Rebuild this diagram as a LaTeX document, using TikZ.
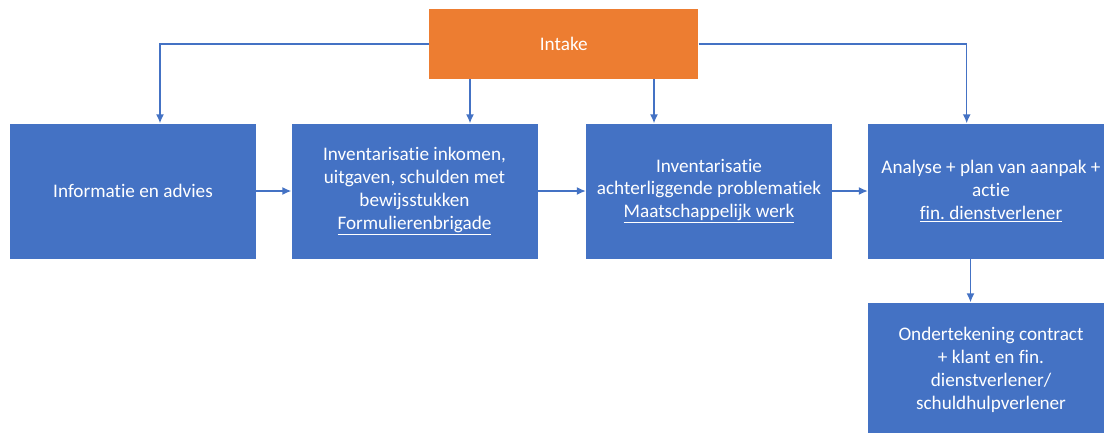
\documentclass[tikz,border=0pt]{standalone}
\usepackage{fontspec}
\setmainfont[Ligatures={NoCommon}]{Carlito}
\frenchspacing
\usetikzlibrary{arrows.meta}
\definecolor{boxblue}{HTML}{4472C4}
\definecolor{boxorange}{HTML}{ED7D31}
\tikzset{
  stepbox/.style={fill=boxblue, draw=none, text=white, align=center,
    minimum width=246pt, minimum height=135pt, inner sep=0pt,
    font=\fontsize{19.2pt}{22.8pt}\selectfont},
  intakebox/.style={fill=boxorange, draw=none, text=white, align=center,
    minimum width=269pt, minimum height=70pt, inner sep=0pt,
    font=\fontsize{19.2pt}{22.8pt}\selectfont},
  arr/.style={draw=boxblue, line width=1.4pt, -{Latex[length=9pt,width=8pt]}},
}
\begin{document}
\begin{tikzpicture}[x=1pt,y=-1pt]
\useasboundingbox (0,0) rectangle (1104,432);
\fill[white] (0,0) rectangle (1104,432);
\clip (0,0) rectangle (1104,432);
\node[intakebox] (intake) at (563.8,44) {Intake};
\node[stepbox] (b1) at (133,191) {Informatie en advies};
\node[stepbox] (b2) at (414.5,191) {Inventarisatie inkomen,\\uitgaven, schulden met\\bewijsstukken\\\underline{Formulierenbrigade}};
\node[stepbox] (b3) at (709,191) {Inventarisatie\\achterliggende problematiek\\\underline{Maatschappelijk werk}};
\node[stepbox] (b4) at (991,191) {Analyse + plan van aanpak +\\actie\\\underline{fin. dienstverlener}};
\node[stepbox] (b5) at (991,370) {Ondertekening contract\\+ klant en fin.\\dienstverlener/\\schuldhulpverlener};
\coordinate (xa) at (160,0);
\coordinate (xb) at (470,0);
\coordinate (xc) at (654,0);
\coordinate (xd) at (966.7,0);
\coordinate (xe) at (970.5,0);
\draw[arr] (intake.west) -| (xa |- b1.north);
\draw[arr] (intake.east) -| (xd |- b4.north);
\draw[arr] (xb |- intake.south) -- (xb |- b2.north);
\draw[arr] (xc |- intake.south) -- (xc |- b3.north);
\draw[arr] (b1.east) -- (b2.west);
\draw[arr] (b2.east) -- (b3.west);
\draw[arr] (b3.east) -- (b4.west);
\draw[arr] (xe |- b4.south) -- (xe |- b5.north);
\end{tikzpicture}
\end{document}
